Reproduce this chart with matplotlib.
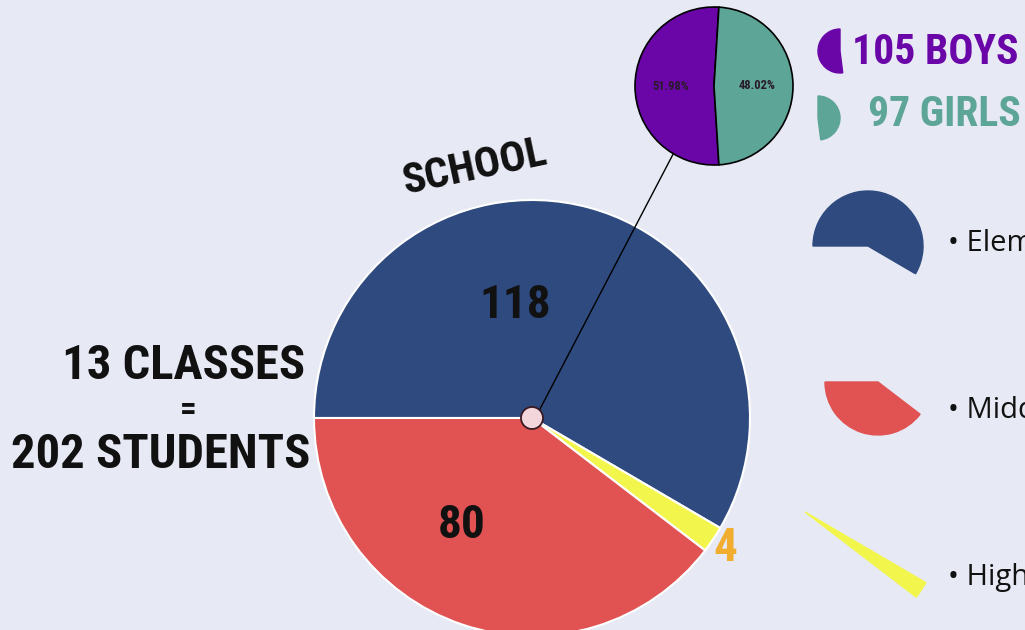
#Recreating the school infographic: a big pie of students per level and a small boys/girls pie.

import matplotlib
matplotlib.use('Agg')
import matplotlib.pyplot as plt
from matplotlib.patches import Wedge, Circle
from matplotlib import font_manager
import numpy as np

levels = ['Elementary', 'Middle', 'High']
students = [118, 80, 4]
level_colors = ['#2e4a7e', '#e15252', '#f2f64c']
pie_order = [0, 2, 1]   #going clockwise from the left: Elementary, High, Middle

genders = ['BOYS', 'GIRLS']
gender_counts = [105, 97]
gender_colors = ['#6a06a8', '#5da597']

classes = 13

#picking a narrow bold font if one is around
narrow = 'DejaVu Sans'
for name in ['Roboto Condensed', 'Liberation Sans Narrow', 'DejaVu Sans']:
    try:
        font_manager.findfont(font_manager.FontProperties(family=name), fallback_to_default=False)
        narrow = name
        break
    except Exception:
        pass

bg = '#e7e9f5'
fig = plt.figure(figsize=(10.25, 6.3), dpi=100, facecolor=bg)
ax = fig.add_axes([0, 0, 1, 1])
ax.set_facecolor(bg)

H = 630
main_c = (532, H - 418)
main_r = 218
small_c = (714, H - 86)
small_r = 79

total = sum(students)
ax.pie([students[i] for i in pie_order], colors=[level_colors[i] for i in pie_order],
       startangle=180, counterclock=False, center=main_c, radius=main_r,
       wedgeprops={'edgecolor': 'white', 'linewidth': 1.5})

b = 360 * gender_counts[0] / total
ax.pie(gender_counts, colors=gender_colors, startangle=90 - (b - 180) / 2, counterclock=True,
       center=small_c, radius=small_r, autopct='%.2f%%', pctdistance=0.55,
       textprops={'fontsize': 9, 'fontweight': 'bold', 'color': '#2a1a2a', 'family': narrow},
       wedgeprops={'edgecolor': 'black', 'linewidth': 1.2})

#line from the centre of the big pie up to the small pie
ang = np.deg2rad(239)
end = (small_c[0] + small_r * np.cos(ang), small_c[1] + small_r * np.sin(ang))
ax.plot([main_c[0] + 8, end[0]], [main_c[1] + 9, end[1]], color='black', lw=1, zorder=3)
ax.add_patch(Circle(main_c, 11, facecolor='#f2d6dc', edgecolor='#3a1a22', lw=1.3, zorder=4))

#angles of each level's slice
starts = {}
ends = {}
a = 180
for i in pie_order:
    starts[i] = a
    a = a - 360 * students[i] / total
    ends[i] = a

#numbers inside the big pie
ax.text(main_c[0] - 17, main_c[1] + 113, str(students[0]), fontsize=34, family=narrow,
        fontweight='bold', ha='center', va='center', color='#111111')
ax.text(main_c[0] - 70, main_c[1] - 107, str(students[1]), fontsize=34, family=narrow,
        fontweight='bold', ha='center', va='center', color='#111111')
mid = np.deg2rad((starts[2] + ends[2]) / 2)
ax.text(main_c[0] + 1.07 * main_r * np.cos(mid), main_c[1] + 1.07 * main_r * np.sin(mid),
        str(students[2]), fontsize=34, family=narrow, fontweight='bold',
        ha='center', va='center', color='#f0ad2e')

ax.text(475, H - 168, 'SCHOOL', fontsize=31, family=narrow, fontweight='bold',
        rotation=12, ha='center', va='center', color='#111111')

ax.text(305, H - 366, f'{classes} CLASSES', fontsize=35, family=narrow, fontweight='bold',
        ha='right', va='center', color='#111111')
ax.text(188, H - 410, '=', fontsize=24, family=narrow, fontweight='bold',
        ha='center', va='center', color='#111111')
ax.text(310, H - 455, f'{total} STUDENTS', fontsize=35, family=narrow, fontweight='bold',
        ha='right', va='center', color='#111111')

#boys / girls legend with half wedges
ax.add_patch(Wedge((840, H - 51), 22, 90, 90 + b, color=gender_colors[0]))
ax.add_patch(Wedge((818, H - 118), 22, 90 + b - 360, 90, color=gender_colors[1]))
ax.text(852, H - 53, f'{gender_counts[0]} {genders[0]}', fontsize=30, family=narrow,
        fontweight='bold', ha='left', va='center', color=gender_colors[0])
ax.text(868, H - 114, f'{gender_counts[1]} {genders[1]}', fontsize=30, family=narrow,
        fontweight='bold', ha='left', va='center', color=gender_colors[1])

#level legend: each icon is the slice itself, labels run off the right edge like the original
icon_c = [(868, H - 246), (878, H - 382), (805, H - 512)]
icon_r = [55, 53, 140]
text_y = [244, 410, 578]
for i in range(3):
    ax.add_patch(Wedge(icon_c[i], icon_r[i], ends[i], starts[i], color=level_colors[i]))
    ax.text(948, H - text_y[i], '\u2022 ' + levels[i], fontsize=21, family='Open Sans',
            ha='left', va='center', color='#111111')

ax.set_xlim(0, 1025)
ax.set_ylim(0, H)
ax.set_aspect('equal')
ax.axis('off')

plt.savefig('out.png', dpi=100, facecolor=bg)
